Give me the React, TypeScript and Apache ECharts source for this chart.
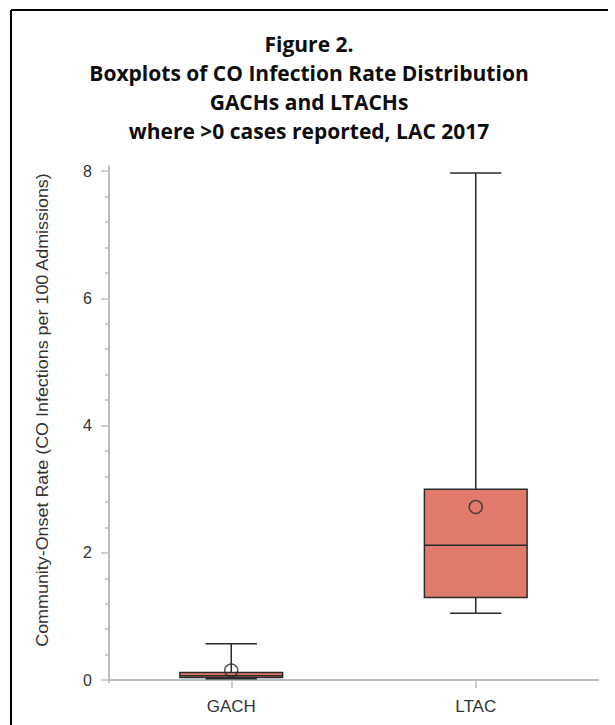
import React, { useEffect, useRef } from "react";
import * as echarts from "echarts";

const titleLines = [
  "Figure 2.",
  "Boxplots of CO Infection Rate Distribution",
  "GACHs and LTACHs",
  "where >0 cases reported, LAC 2017",
];
const yAxisName = "Community-Onset Rate (CO Infections per 100 Admissions)";
const categories = ["GACH", "LTAC"];
const whiskerLow = [0.02, 1.05];
const q1 = [0.04, 1.3];
const median = [0.07, 2.12];
const q3 = [0.12, 3.0];
const whiskerHigh = [0.57, 7.97];
const means = [0.15, 2.72];
const majorTicks = [0, 2, 4, 6, 8];
const minorTicks = [0.4, 0.8, 1.2, 1.6, 2.4, 2.8, 3.2, 3.6, 4.4, 4.8, 5.2, 5.6, 6.4, 6.8, 7.2, 7.6];

const AXIS_COLOR = "#b8bfc3";
const BOX_FILL = "#e07b6b";
const EDGE = "#2b2b2b";
const TITLE_Y = [44, 73, 102, 131];

export default function App() {
  const ref = useRef<HTMLDivElement>(null);
  useEffect(() => {
    if (!ref.current) return;
    const chart = echarts.init(ref.current, null, { renderer: "svg" });
    const boxData = categories.map((_, i) => [i, whiskerLow[i], q1[i], median[i], q3[i], whiskerHigh[i]]);
    const titleGraphics = titleLines.map((t, i) => ({
      type: "text",
      x: 309,
      y: TITLE_Y[i],
      style: {
        text: t,
        fontFamily: "Open Sans",
        fontWeight: "bold",
        fontSize: 21,
        fill: "#0d0d0d",
        textAlign: "center",
        textVerticalAlign: "middle",
      },
    }));
    const option: any = {
      animation: false,
      backgroundColor: "#ffffff",
      graphic: [
        { type: "line", shape: { x1: 11, y1: 10, x2: 608, y2: 10 }, style: { stroke: "#000", lineWidth: 2 } },
        { type: "line", shape: { x1: 11, y1: 10, x2: 11, y2: 725 }, style: { stroke: "#000", lineWidth: 2 } },
        ...titleGraphics,
        {
          type: "text",
          x: 43,
          y: 410,
          rotation: Math.PI / 2,
          scaleX: 1.12,
          style: {
            text: yAxisName,
            fontFamily: "Liberation Sans",
            fontSize: 16,
            fill: "#333",
            textAlign: "center",
            textVerticalAlign: "middle",
          },
        },
      ],
      grid: { left: 109, top: 166, right: 17, bottom: 43 },
      xAxis: [
        {
          type: "category",
          data: categories,
          boundaryGap: true,
          axisLine: { show: true, lineStyle: { color: AXIS_COLOR, width: 2 } },
          axisTick: { show: true, alignWithLabel: true, length: 8, lineStyle: { color: AXIS_COLOR, width: 1.5 } },
          axisLabel: { color: "#333", fontFamily: "Liberation Sans", fontSize: 17, margin: 16 },
          splitLine: { show: false },
        },
        {
          type: "category",
          data: categories,
          position: "top",
          axisLine: { show: true, lineStyle: { color: AXIS_COLOR, width: 2 } },
          axisTick: { show: false },
          axisLabel: { show: false },
          splitLine: { show: false },
        },
      ],
      yAxis: [
        {
          type: "value",
          min: -0.03,
          max: 8.08,
          axisLine: { show: true, lineStyle: { color: AXIS_COLOR, width: 2 } },
          axisTick: { show: true, customValues: majorTicks, length: 8, lineStyle: { color: AXIS_COLOR, width: 1.5 } },
          axisLabel: { show: true, customValues: majorTicks, color: "#333", fontFamily: "Liberation Sans", fontSize: 16, margin: 17 },
          splitLine: { show: false },
        },
        {
          type: "value",
          min: -0.03,
          max: 8.08,
          position: "left",
          axisLine: { show: false },
          axisTick: { show: true, customValues: minorTicks, length: 4, lineStyle: { color: AXIS_COLOR, width: 1.5 } },
          axisLabel: { show: false },
          splitLine: { show: false },
        },
      ],
      series: [
        {
          type: "custom",
          xAxisIndex: 0,
          yAxisIndex: 0,
          data: boxData,
          encode: { x: 0, y: [1, 2, 3, 4, 5] },
          renderItem: (params: any, api: any) => {
            const idx = api.value(0);
            const lo = api.coord([idx, api.value(1)]);
            const b1 = api.coord([idx, api.value(2)]);
            const md = api.coord([idx, api.value(3)]);
            const b3 = api.coord([idx, api.value(4)]);
            const hi = api.coord([idx, api.value(5)]);
            const band = api.size([1, 0])[0];
            const boxW = band * 0.42;
            const capW = band * 0.21;
            const x = lo[0];
            const lineStyle = { stroke: EDGE, lineWidth: 1.5 };
            return {
              type: "group",
              children: [
                { type: "line", shape: { x1: x, y1: hi[1], x2: x, y2: b3[1] }, style: lineStyle },
                { type: "line", shape: { x1: x, y1: b1[1], x2: x, y2: lo[1] }, style: lineStyle },
                { type: "line", shape: { x1: x - capW / 2, y1: hi[1], x2: x + capW / 2, y2: hi[1] }, style: lineStyle },
                { type: "line", shape: { x1: x - capW / 2, y1: lo[1], x2: x + capW / 2, y2: lo[1] }, style: lineStyle },
                {
                  type: "rect",
                  shape: { x: x - boxW / 2, y: b3[1], width: boxW, height: b1[1] - b3[1] },
                  style: { fill: BOX_FILL, stroke: EDGE, lineWidth: 1.5 },
                },
                { type: "line", shape: { x1: x - boxW / 2, y1: md[1], x2: x + boxW / 2, y2: md[1] }, style: lineStyle },
              ],
            };
          },
          z: 2,
        },
        {
          type: "scatter",
          xAxisIndex: 0,
          yAxisIndex: 0,
          data: categories.map((_, i) => [i, means[i]]),
          symbol: "circle",
          symbolSize: 13,
          itemStyle: { color: "rgba(0,0,0,0)", borderColor: EDGE, borderWidth: 1.5 },
          z: 3,
        },
      ],
    };
    chart.setOption(option);
    return () => chart.dispose();
  }, []);
  return <div ref={ref} style={{ position: "fixed", left: 0, top: 0, width: 615, height: 725 }} />;
}
